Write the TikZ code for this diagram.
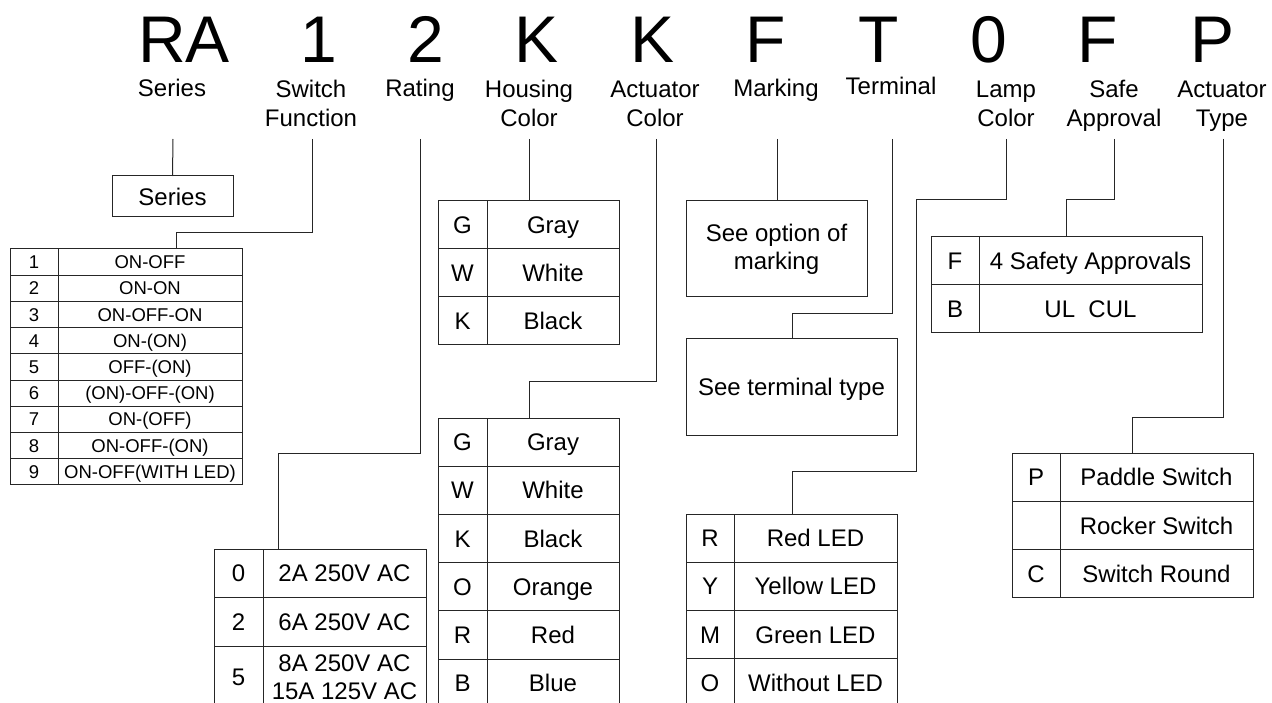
\documentclass[tikz,border=0pt]{standalone}
\usepackage{fontspec}
\setmainfont{Liberation Sans}

\begin{document}
\begin{tikzpicture}[x=1pt, y=-1pt,
  code/.style={font=\fontsize{66}{66}\selectfont, anchor=base, inner sep=0pt},
  field/.style={font=\fontsize{24}{29}\selectfont, align=center, anchor=base, inner sep=0pt},
  cell/.style={draw=black!85, line width=1pt, inner sep=0pt, outer sep=0pt, align=center, minimum height=48.2pt, font=\fontsize{24}{28}\selectfont},
  row/.style={cell, text height=17.2pt, text depth=0pt},
  smallcell/.style={row, minimum height=26.2pt, text height=13.3pt, font=\fontsize{18.5}{22}\selectfont},
  keycell/.style={row, minimum width=48pt},
  wire/.style={draw=black!85, line width=1pt}
]

\clip (0,0) rectangle (1272,703);

\node[code] (cRA) at (184,63) {RA};
\node[code] (cSw) at (319,63) {1};
\node[code] (cRat) at (426,63) {2};
\node[code] (cHou) at (537,63) {K};
\node[code] (cAct) at (653,63) {K};
\node[code] (cMar) at (766,63) {F};
\node[code] (cTer) at (879,63) {T};
\node[code] (cLam) at (989,63) {0};
\node[code] (cSaf) at (1098,63) {F};
\node[code] (cTyp) at (1212,63) {P};

\node[field] (fSeries) at (172,97) {Series};
\node[field] (fSwitch) at (311,127) {Switch\\Function};
\node[field] (fRating) at (420,97) {Rating};
\node[field] (fHousing) at (529,127) {Housing\\Color};
\node[field] (fActuator) at (655,127) {Actuator\\Color};
\node[field] (fMarking) at (776,97) {Marking};
\node[field] (fTerminal) at (891,95) {Terminal};
\node[field] (fLamp) at (1006,127) {Lamp\\Color};
\node[field] (fSafe) at (1114,127) {Safe\\Approval};
\node[field] (fType) at (1222,127) {Actuator\\Type};

\coordinate (sSeries) at (173,139);
\coordinate (sSwitch) at (312,139);
\coordinate (sRating) at (420,139);
\coordinate (sHousing) at (529,139);
\coordinate (sActuator) at (656,139);
\coordinate (sMarking) at (777,139);
\coordinate (sTerminal) at (892,139);
\coordinate (sLamp) at (1006,139);
\coordinate (sSafe) at (1114,139);
\coordinate (sType) at (1223,139);

\node[row, minimum width=121pt, minimum height=41pt] (series) at (172.5,196.5) {Series};
\node[cell, minimum width=181pt, minimum height=96pt] (marking) at (776.5,249) {See option of\\marking};
\node[row, minimum width=211pt, minimum height=96pt] (terminal) at (791.5,387) {See terminal type};

\foreach \k/\v [count=\i] in {1/ON-OFF, 2/ON-ON, 3/ON-OFF-ON, 4/ON-(ON), 5/OFF-(ON), 6/(ON)-OFF-(ON), 7/ON-(OFF), 8/ON-OFF-(ON), 9/ON-OFF(WITH LED)} {
  \node[smallcell, minimum width=48pt] (sw\i) at (34,{235.9+26.2*\i}) {\k};
  \node[smallcell, minimum width=184pt] (swv\i) at (150,{235.9+26.2*\i}) {\v};
}

\node[keycell, minimum width=49pt, minimum height=48pt] (rat1) at (238.5,573) {0};
\node[row, minimum width=163pt, minimum height=48pt] (ratv1) at (344.5,573) {2A 250V AC};
\node[keycell, minimum width=49pt, minimum height=49pt] (rat2) at (238.5,621.5) {2};
\node[row, minimum width=163pt, minimum height=49pt] (ratv2) at (344.5,621.5) {6A 250V AC};
\node[keycell, minimum width=49pt, minimum height=62pt] (rat3) at (238.5,677) {5};
\node[cell, minimum width=163pt, minimum height=62pt] (ratv3) at (344.5,677) {8A 250V AC\\15A 125V AC};

\foreach \k/\v [count=\i] in {G/Gray, W/White, K/Black} {
  \node[keycell, minimum width=49pt, minimum height=48pt] (hou\i) at (462.5,{177+48*\i}) {\k};
  \node[row, minimum width=132pt, minimum height=48pt] (houv\i) at (553,{177+48*\i}) {\v};
}

\foreach \k/\v [count=\i] in {G/Gray, W/White, K/Black, O/Orange, R/Red, B/Blue} {
  \node[keycell, minimum width=49pt] (act\i) at (462.5,{393.9+48.2*\i}) {\k};
  \node[row, minimum width=132pt] (actv\i) at (553,{393.9+48.2*\i}) {\v};
}

\foreach \k/\v [count=\i] in {R/Red LED, Y/Yellow LED, M/Green LED, O/Without LED} {
  \node[keycell] (led\i) at (710,{489.9+48.2*\i}) {\k};
  \node[row, minimum width=163pt] (ledv\i) at (815.5,{489.9+48.2*\i}) {\v};
}

\foreach \k/\v [count=\i] in {F/4 Safety Approvals, B/UL\ \ CUL} {
  \node[keycell, minimum height=48pt] (saf\i) at (955,{213+48*\i}) {\k};
  \node[row, minimum width=223pt, minimum height=48pt] (safv\i) at (1090.5,{213+48*\i}) {\v};
}

\foreach \k/\v [count=\i] in {P/Paddle Switch, /Rocker Switch, C/Switch Round} {
  \node[keycell, minimum height=48.3pt] (typ\i) at (1036,{428.85+48.3*\i}) {\k};
  \node[row, minimum width=193pt, minimum height=48.3pt] (typv\i) at (1156.5,{428.85+48.3*\i}) {\v};
}

\coordinate (jSwitch) at (176,233);
\coordinate (jRating) at (278,453);
\coordinate (jActuator) at (529,381);
\coordinate (jTerminal) at (792,314);
\coordinate (jLampA) at (916,200);
\coordinate (jLampB) at (792,471);
\coordinate (jSafe) at (1066,200);
\coordinate (jType) at (1132,417);

\draw[wire] (sSeries) -- (series.north);
\draw[wire] (sSwitch) |- (jSwitch) -- (jSwitch |- sw1.north);
\draw[wire] (sRating) |- (jRating) -- (jRating |- rat1.north);
\draw[wire] (sHousing) -- (sHousing |- hou1.north);
\draw[wire] (sActuator) |- (jActuator) -- (jActuator |- act1.north);
\draw[wire] (sMarking) -- (sMarking |- marking.north);
\draw[wire] (sTerminal) |- (jTerminal) -- (jTerminal |- terminal.north);
\draw[wire] (sLamp) |- (jLampA) |- (jLampB) -- (jLampB |- led1.north);
\draw[wire] (sSafe) |- (jSafe) -- (jSafe |- saf1.north);
\draw[wire] (sType) |- (jType) -- (jType |- typ1.north);

\end{tikzpicture}
\end{document}
